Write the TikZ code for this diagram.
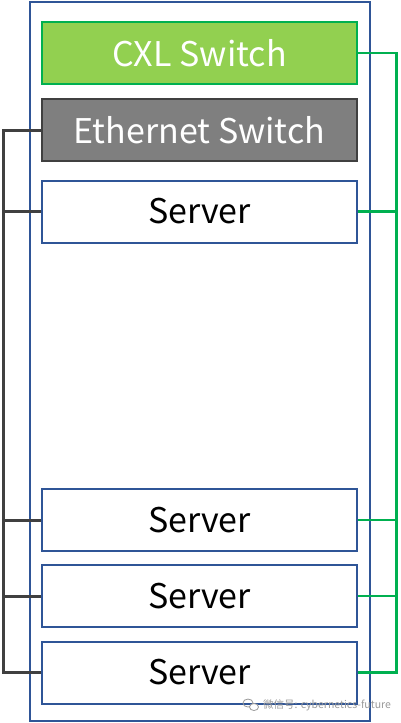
\documentclass[tikz,border=0pt]{standalone}
\usepackage{fontspec}
\setmainfont{Noto Sans CJK SC}
\newfontfamily\cjk{Noto Sans CJK SC}
\definecolor{frameblue}{HTML}{2F5597}
\definecolor{cxlfill}{HTML}{92D050}
\definecolor{cxlline}{HTML}{00B050}
\definecolor{ethfill}{HTML}{7F7F7F}
\definecolor{ethline}{HTML}{404040}
\definecolor{wmgrey}{HTML}{9A9A9A}
\tikzset{
  box/.style={draw, line width=2pt, minimum width=315pt, minimum height=62pt, inner sep=0pt, font=\fontsize{34}{40}\selectfont},
  serverbox/.style={box, draw=frameblue, fill=white, text=black},
  cxlbox/.style={box, draw=cxlline, fill=cxlfill, text=white},
  ethbox/.style={box, draw=ethline, fill=ethfill, text=white},
  gline/.style={draw=cxlline, line width=2.6pt},
  eline/.style={draw=ethline, line width=3pt},
}
\begin{document}
\begin{tikzpicture}[x=1pt,y=-1pt]
\useasboundingbox (0,0) rectangle (400,723);
\draw[frameblue, line width=2pt] (29.5,1.5) rectangle (369.5,721);
\node[cxlbox] (cxl) at (199.5,53) {CXL Switch};
\node[ethbox] (eth) at (199.5,130) {Ethernet Switch};
\node[serverbox] (s1) at (199.5,211.5) {Server};
\node[serverbox] (s2) at (199.5,520) {Server};
\node[serverbox] (s3) at (199.5,596) {Server};
\node[serverbox] (s4) at (199.5,672.5) {Server};
\coordinate (gbus) at (396.5,0);
\coordinate (ebus) at (3,0);
% green CXL connections
\draw[gline] (cxl.east) -- (cxl.east -| gbus);
\draw[gline] (s1.east) -- (s1.east -| gbus);
\draw[gline] (s2.east) -- (s2.east -| gbus);
\draw[gline] (s3.east) -- (s3.east -| gbus);
\draw[gline] (s4.east) -- (s4.east -| gbus);
\draw[gline, line cap=rect] (cxl.east -| gbus) -- (s4.east -| gbus);
% ethernet connections
\draw[eline] (eth.west) -- (eth.west -| ebus);
\draw[eline] (s1.west) -- (s1.west -| ebus);
\draw[eline] (s2.west) -- (s2.west -| ebus);
\draw[eline] (s3.west) -- (s3.west -| ebus);
\draw[eline] (s4.west) -- (s4.west -| ebus);
\draw[eline, line cap=rect] (eth.west -| ebus) -- (s4.west -| ebus);
% watermark
\node[anchor=west, inner sep=0pt, text=wmgrey, font=\cjk\fontsize{10.5}{12}\selectfont] (wm) at (263,705) {微信号: cybernetics-future};
\draw[wmgrey, line width=0.8pt] (248,703) ellipse (5pt and 4pt);
\draw[wmgrey, line width=0.8pt, fill=white] (254,707) ellipse (4.5pt and 3.5pt);
\end{tikzpicture}
\end{document}
